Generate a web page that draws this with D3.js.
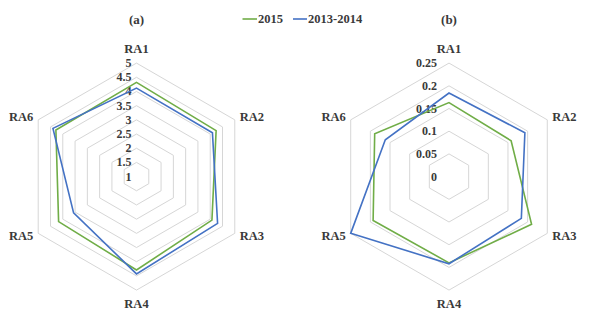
<!DOCTYPE html>
<html>
<head>
<meta charset="utf-8">
<script src="https://cdn.jsdelivr.net/npm/d3@7/dist/d3.min.js"></script>
<style>
  html, body { margin: 0; padding: 0; background: #fff; }
  svg { display: block; }
  text { font-family: "Liberation Serif", "Times New Roman", serif; font-weight: bold; fill: #3a3a3a; }
</style>
</head>
<body>
<svg id="chart" width="589" height="321"></svg>
<script>
// ---- data ----
const categories = ["RA1", "RA2", "RA3", "RA4", "RA5", "RA6"];
const seriesNames = ["2015", "2013-2014"];
const seriesColors = ["#70AD47", "#4472C4"];

const valuesA2015 = [4.32, 4.24, 4.07, 4.29, 4.17, 4.28];
const valuesA2013 = [4.12, 4.09, 4.30, 4.43, 3.56, 4.40];
const ticksA = [1, 1.5, 2, 2.5, 3, 3.5, 4, 4.5, 5];
const tickLabelsA = ["1", "1.5", "2", "2.5", "3", "3.5", "4", "4.5", "5"];

const valuesB2015 = [0.163, 0.158, 0.210, 0.190, 0.193, 0.189];
const valuesB2013 = [0.184, 0.193, 0.184, 0.192, 0.250, 0.162];
const ticksB = [0, 0.05, 0.1, 0.15, 0.2, 0.25];
const tickLabelsB = ["0", "0.05", "0.1", "0.15", "0.2", "0.25"];

const svg = d3.select("#chart");
const R = 113.5;

function radar(opts) {
  const g = svg.append("g").attr("transform", `translate(${opts.cx},${opts.cy})`);
  const r = d3.scaleLinear().domain([opts.ticks[0], opts.ticks[opts.ticks.length - 1]]).range([0, R]);
  const ang = d3.scalePoint().domain(categories).range([0, 2 * Math.PI * 5 / 6]);
  const ring = d3.lineRadial().curve(d3.curveLinearClosed);

  // grid hexagons
  opts.ticks.slice(1).forEach(t => {
    g.append("path")
      .attr("d", ring(categories.map(c => [ang(c), r(t)])))
      .attr("fill", "none").attr("stroke", "#d6d6d6").attr("stroke-width", 1);
  });

  // tick labels
  opts.ticks.forEach((t, i) => {
    g.append("text")
      .attr("x", -opts.tickOffset).attr("y", -r(t))
      .attr("text-anchor", "end").attr("dominant-baseline", "central")
      .attr("font-size", 12)
      .text(opts.tickLabels[i]);
  });

  // series
  opts.series.forEach((vals, si) => {
    g.append("path")
      .attr("d", ring(vals.map((v, k) => [ang(categories[k]), r(v)])))
      .attr("fill", "none").attr("stroke", seriesColors[si]).attr("stroke-width", 1.6)
      .attr("stroke-linejoin", "miter");
  });

  // category labels
  categories.forEach((c, k) => {
    const a = ang(c);
    let x = 0, y = 0;
    if (k === 0) { x = 0; y = -(R + 14); }
    if (k === 3) { x = 0; y = R + 14; }
    if (k === 1 || k === 2) { x = Math.sin(a) * R + 17; }
    if (k === 4 || k === 5) { x = Math.sin(a) * R - 17; }
    if (k === 1 || k === 5) { y = -Math.cos(a) * R - 3; }
    if (k === 2 || k === 4) { y = -Math.cos(a) * R + 3; }
    g.append("text")
      .attr("x", x).attr("y", y)
      .attr("text-anchor", "middle").attr("dominant-baseline", "central")
      .attr("font-size", 12.5)
      .text(c);
  });

  // title
  svg.append("text")
    .attr("x", opts.cx).attr("y", 19)
    .attr("text-anchor", "middle").attr("dominant-baseline", "central")
    .attr("font-size", 13)
    .attr("fill", "#222")
    .text(opts.title);
}

radar({ cx: 136.5, cy: 176.6, ticks: ticksA, tickLabels: tickLabelsA, tickOffset: 5,
        series: [valuesA2015, valuesA2013], title: "(a)" });
radar({ cx: 449, cy: 176.6, ticks: ticksB, tickLabels: tickLabelsB, tickOffset: 12,
        series: [valuesB2015, valuesB2013], title: "(b)" });

// legend
const legend = svg.append("g");
const legendItems = [{ x0: 242.5, x1: 257, tx: 258 }, { x0: 293, x1: 307, tx: 308 }];
seriesNames.forEach((name, i) => {
  const it = legendItems[i];
  legend.append("line").attr("x1", it.x0).attr("x2", it.x1).attr("y1", 19).attr("y2", 19)
    .attr("stroke", seriesColors[i]).attr("stroke-width", 1.6);
  legend.append("text").attr("x", it.tx).attr("y", 19)
    .attr("dominant-baseline", "central").attr("font-size", 12.5).text(name);
});
</script>
</body>
</html>
